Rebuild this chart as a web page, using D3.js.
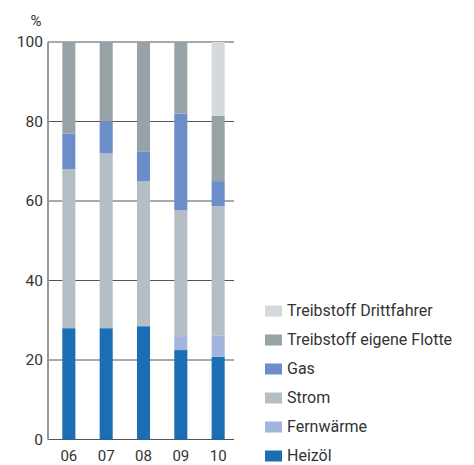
<!DOCTYPE html>
<html><head><meta charset="utf-8">
<script src="https://cdn.jsdelivr.net/npm/d3@7"></script>
<style>body{margin:0;background:#fff}svg{display:block}text{font-family:Roboto,"Noto Sans",sans-serif;fill:#333}</style>
</head><body><svg id="c" width="474" height="465"></svg>
<script>
const years = ["06","07","08","09","10"];
const seriesNames = ["Heizöl","Fernwärme","Strom","Gas","Treibstoff eigene Flotte","Treibstoff Drittfahrer"];
const heizoel = [28, 28, 28.5, 22.5, 20.8];
const fernwaerme = [0, 0, 0, 3.5, 5.4];
const strom = [40, 44, 36.5, 31.7, 32.5];
const gas = [9, 8, 7.5, 24.3, 6.3];
const treibEigen = [23, 20, 27.5, 18, 16.4];
const treibDritt = [0, 0, 0, 0, 18.6];
const yTicks = [0, 20, 40, 60, 80, 100];
const colors = ["#1b6db5","#a2b5de","#b5bdc5","#6b8dc8","#98a3a8","#d4d9dd"];

const seriesValues = [heizoel, fernwaerme, strom, gas, treibEigen, treibDritt];
const table = years.map((yr, i) => {
  const o = {year: yr};
  seriesNames.forEach((n, k) => o[n] = seriesValues[k][i]);
  return o;
});
const stacked = d3.stack().keys(seriesNames)(table);

const svg = d3.select("#c");
const x = d3.scaleBand().domain(years).range([50, 237]).paddingInner(0.65).paddingOuter(0.33);
const y = d3.scaleLinear().domain([0, 100]).range([439.5, 42]);
const color = d3.scaleOrdinal().domain(seriesNames).range(colors);

// gridlines
svg.append("g").selectAll("line").data(yTicks).join("line")
  .attr("x1", 48).attr("x2", 234)
  .attr("y1", d => y(d)).attr("y2", d => y(d))
  .attr("stroke", "#555").attr("stroke-width", 1);

// y axis line
svg.append("line").attr("x1", 48).attr("x2", 48).attr("y1", y(100)).attr("y2", y(0))
  .attr("stroke", "#999").attr("stroke-width", 2);

// bars
svg.append("g").selectAll("g").data(stacked).join("g")
  .attr("fill", d => color(d.key))
  .selectAll("rect").data(d => d).join("rect")
  .attr("x", d => x(d.data.year))
  .attr("width", x.bandwidth())
  .attr("y", d => y(d[1]))
  .attr("height", d => y(d[0]) - y(d[1]));

// y tick labels
const yAxis = d3.axisLeft(y).tickValues(yTicks).tickSize(0).tickPadding(5);
const ya = svg.append("g").attr("transform", "translate(48,0)").call(yAxis);
ya.select(".domain").remove();
ya.selectAll("text").style("font-size", "15.5px").attr("fill", "#333");

svg.append("text").attr("x", 36).attr("y", 26).attr("text-anchor", "middle")
  .style("font-size", "15px").text("%");

// x labels
const xAxis = d3.axisBottom(x).tickSize(0).tickPadding(11);
const xa = svg.append("g").attr("transform", `translate(0,${y(0)})`).call(xAxis);
xa.select(".domain").remove();
xa.selectAll("text").style("font-size", "15px").attr("fill", "#333");

// legend
const legendItems = seriesNames.slice().reverse();
const lg = svg.append("g").selectAll("g").data(legendItems).join("g")
  .attr("transform", (d, i) => `translate(265,${311 + i * 29})`);
lg.append("rect").attr("x", 0).attr("y", -5.5).attr("width", 17).attr("height", 11)
  .attr("fill", d => color(d));
lg.append("text").attr("x", 22).attr("y", 5).style("font-size", "16px").text(d => d);
</script></body></html>
